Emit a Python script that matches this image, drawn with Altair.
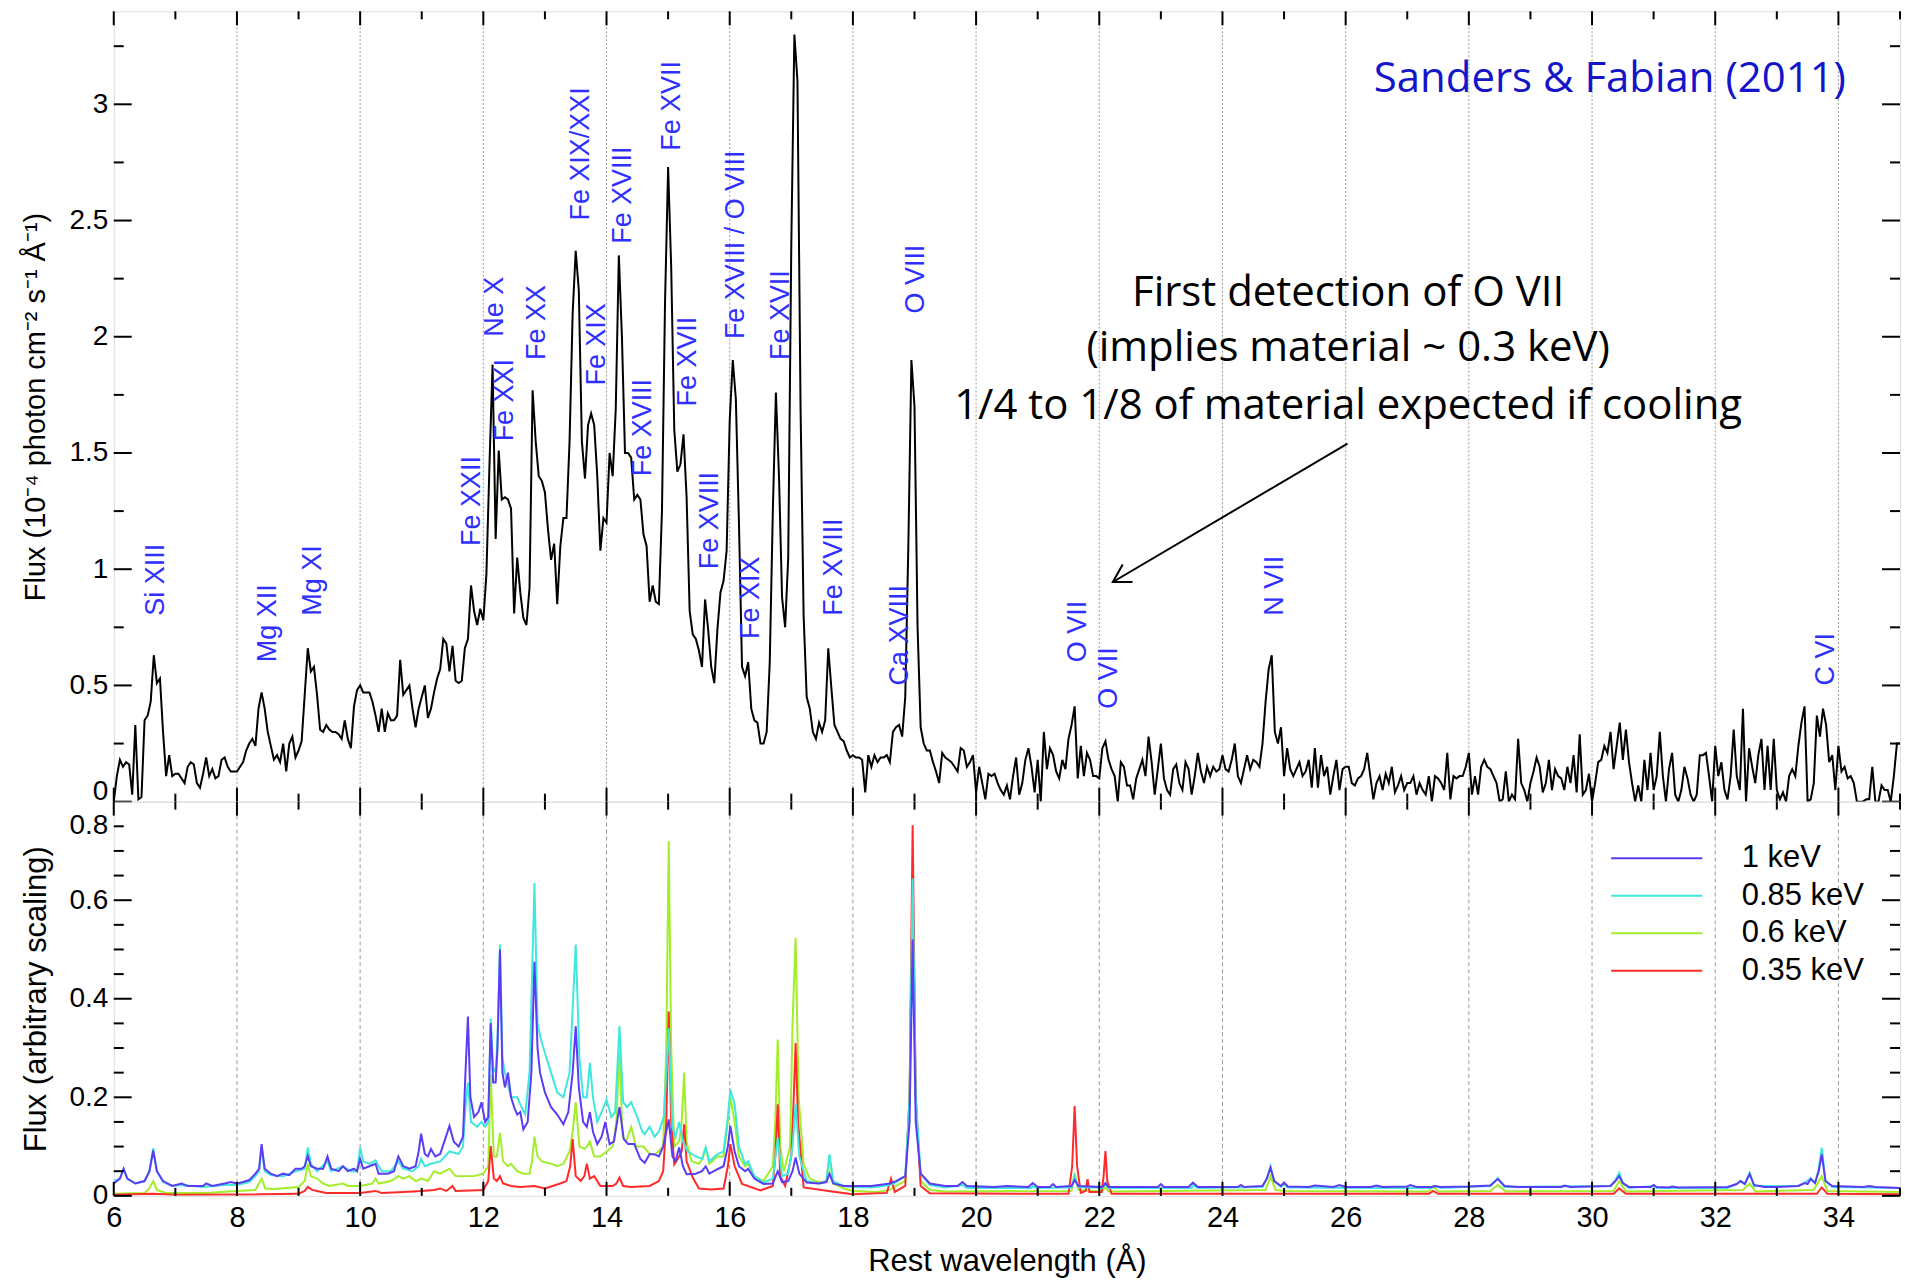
import altair as alt
import pandas as pd

# ---------------------------------------------------------------------------
# Observed RGS spectrum: 0.05 Å bins, one row of 20 bins per Ångström
# (row 0 = 6.00 ... 6.95 Å, last row = 34.00 ... 34.95 Å), flux in 1e-4 units
# ---------------------------------------------------------------------------
FLUX_ROWS = [
    [0.00, 0.11, 0.18, 0.15, 0.17, 0.16, 0.03, 0.33, 0.01, 0.02, 0.35, 0.37, 0.43, 0.63, 0.51, 0.53, 0.30, 0.11, 0.20, 0.11],
    [0.12, 0.12, 0.10, 0.08, 0.15, 0.17, 0.16, 0.08, 0.06, 0.12, 0.19, 0.11, 0.14, 0.10, 0.11, 0.18, 0.19, 0.15, 0.13, 0.13],
    [0.13, 0.15, 0.17, 0.22, 0.25, 0.27, 0.24, 0.40, 0.47, 0.40, 0.30, 0.24, 0.18, 0.20, 0.17, 0.25, 0.13, 0.25, 0.28, 0.19],
    [0.22, 0.26, 0.46, 0.66, 0.56, 0.58, 0.46, 0.31, 0.30, 0.33, 0.31, 0.30, 0.30, 0.29, 0.27, 0.35, 0.27, 0.23, 0.41, 0.48],
    [0.50, 0.47, 0.47, 0.47, 0.43, 0.37, 0.30, 0.40, 0.30, 0.38, 0.35, 0.35, 0.37, 0.61, 0.46, 0.48, 0.50, 0.40, 0.32, 0.40],
    [0.45, 0.50, 0.36, 0.40, 0.47, 0.53, 0.57, 0.70, 0.68, 0.56, 0.67, 0.52, 0.51, 0.52, 0.66, 0.70, 0.93, 0.82, 0.76, 0.83],
    [0.78, 0.98, 1.45, 1.88, 1.13, 1.51, 1.30, 1.31, 1.30, 1.26, 0.81, 1.05, 0.90, 0.79, 0.76, 0.92, 1.77, 1.55, 1.40, 1.38],
    [1.33, 1.17, 1.04, 1.11, 0.85, 1.10, 1.22, 1.22, 1.55, 2.10, 2.37, 2.20, 1.55, 1.39, 1.62, 1.67, 1.62, 1.40, 1.08, 1.22],
    [1.20, 1.50, 1.40, 1.69, 2.35, 2.00, 1.50, 1.50, 1.48, 1.30, 1.32, 1.30, 1.15, 1.10, 0.86, 0.93, 0.86, 0.85, 1.25, 2.15],
    [2.73, 2.30, 1.60, 1.42, 1.45, 1.58, 1.31, 0.82, 0.72, 0.70, 0.65, 0.58, 0.87, 0.74, 0.58, 0.51, 0.74, 0.90, 0.95, 1.08],
    [1.64, 1.90, 1.73, 1.20, 0.58, 0.54, 0.60, 0.40, 0.35, 0.34, 0.25, 0.25, 0.30, 0.60, 1.25, 1.76, 1.40, 0.88, 0.75, 1.05],
    [2.40, 3.30, 3.10, 1.70, 0.80, 0.45, 0.40, 0.30, 0.27, 0.34, 0.30, 0.35, 0.66, 0.49, 0.33, 0.30, 0.27, 0.26, 0.22, 0.19],
    [0.20, 0.19, 0.19, 0.18, 0.04, 0.20, 0.15, 0.20, 0.17, 0.19, 0.19, 0.20, 0.17, 0.30, 0.32, 0.33, 0.28, 0.45, 1.10, 1.90],
    [1.70, 0.75, 0.32, 0.25, 0.22, 0.22, 0.17, 0.13, 0.08, 0.21, 0.19, 0.18, 0.17, 0.15, 0.13, 0.23, 0.22, 0.15, 0.17, 0.20],
    [0.04, 0.15, 0.08, 0.01, 0.12, 0.11, 0.12, 0.08, 0.05, 0.03, 0.07, 0.01, 0.11, 0.19, 0.03, 0.08, 0.18, 0.23, 0.15, 0.04],
    [0.18, 0.00, 0.30, 0.14, 0.23, 0.20, 0.13, 0.10, 0.18, 0.14, 0.27, 0.33, 0.41, 0.10, 0.24, 0.11, 0.21, 0.18, 0.11, 0.11],
    [0.10, 0.23, 0.26, 0.18, 0.14, 0.11, 0.00, 0.17, 0.15, 0.07, 0.07, 0.01, 0.10, 0.14, 0.18, 0.11, 0.28, 0.17, 0.03, 0.14],
    [0.25, 0.10, 0.05, 0.03, 0.14, 0.16, 0.08, 0.05, 0.17, 0.14, 0.03, 0.11, 0.21, 0.13, 0.08, 0.15, 0.11, 0.15, 0.13, 0.14],
    [0.20, 0.14, 0.13, 0.18, 0.25, 0.11, 0.08, 0.14, 0.20, 0.14, 0.18, 0.17, 0.15, 0.25, 0.43, 0.57, 0.63, 0.30, 0.25, 0.32],
    [0.11, 0.23, 0.14, 0.11, 0.14, 0.17, 0.11, 0.13, 0.18, 0.06, 0.23, 0.06, 0.20, 0.11, 0.15, 0.03, 0.11, 0.18, 0.05, 0.14],
    [0.15, 0.15, 0.08, 0.07, 0.10, 0.11, 0.14, 0.21, 0.11, 0.01, 0.08, 0.11, 0.05, 0.12, 0.08, 0.15, 0.04, 0.07, 0.11, 0.05],
    [0.08, 0.08, 0.11, 0.03, 0.08, 0.05, 0.03, 0.11, 0.00, 0.11, 0.10, 0.08, 0.05, 0.21, 0.01, 0.11, 0.10, 0.11, 0.11, 0.15],
    [0.21, 0.03, 0.11, 0.03, 0.15, 0.18, 0.15, 0.14, 0.11, 0.08, 0.00, 0.01, 0.13, 0.00, 0.03, 0.01, 0.27, 0.08, 0.05, 0.00],
    [0.08, 0.13, 0.19, 0.15, 0.04, 0.08, 0.18, 0.05, 0.14, 0.11, 0.10, 0.05, 0.15, 0.08, 0.20, 0.04, 0.29, 0.03, 0.05, 0.12],
    [0.00, 0.08, 0.17, 0.18, 0.24, 0.21, 0.30, 0.14, 0.24, 0.34, 0.18, 0.31, 0.17, 0.08, 0.00, 0.07, 0.00, 0.18, 0.05, 0.21],
    [0.05, 0.11, 0.30, 0.11, 0.00, 0.14, 0.21, 0.03, 0.00, 0.05, 0.15, 0.10, 0.03, 0.00, 0.03, 0.20, 0.20, 0.21, 0.11, 0.00],
    [0.24, 0.11, 0.17, 0.05, 0.01, 0.11, 0.31, 0.11, 0.05, 0.40, 0.00, 0.23, 0.15, 0.08, 0.20, 0.27, 0.05, 0.24, 0.05, 0.27],
    [0.05, 0.01, 0.04, 0.00, 0.11, 0.14, 0.11, 0.24, 0.34, 0.41, 0.00, 0.01, 0.08, 0.37, 0.28, 0.40, 0.33, 0.17, 0.20, 0.05],
    [0.24, 0.13, 0.15, 0.10, 0.11, 0.08, 0.00, 0.00, 0.00, 0.01, 0.01, 0.15, 0.00, 0.00, 0.07, 0.05, 0.05, 0.00, 0.11, 0.25],
]
FLUX_END = 0.25  # bin at 35.00 Å

# ---------------------------------------------------------------------------
# Model spectra (arbitrary scaling): (wavelength, flux) knots per temperature
# ---------------------------------------------------------------------------
MODEL_1KEV = [
    (6.00, 0.025), (6.10, 0.035), (6.16, 0.055), (6.22, 0.035), (6.35, 0.025), (6.50, 0.03), (6.58, 0.05),
    (6.64, 0.092), (6.70, 0.05), (6.80, 0.03), (6.95, 0.02), (7.10, 0.025), (7.20, 0.02), (7.45, 0.02),
    (7.50, 0.025), (7.60, 0.02), (7.80, 0.025), (7.90, 0.028), (8.00, 0.025), (8.10, 0.028), (8.20, 0.032),
    (8.30, 0.045), (8.36, 0.055), (8.40, 0.105), (8.45, 0.055), (8.55, 0.045), (8.65, 0.04), (8.75, 0.045),
    (8.85, 0.042), (8.95, 0.055), (9.05, 0.055), (9.10, 0.06), (9.15, 0.081), (9.20, 0.06), (9.30, 0.055),
    (9.40, 0.055), (9.47, 0.08), (9.53, 0.055), (9.65, 0.05), (9.72, 0.06), (9.80, 0.05), (9.90, 0.055),
    (9.95, 0.05), (10.00, 0.075), (10.05, 0.055), (10.15, 0.06), (10.25, 0.065), (10.30, 0.045),
    (10.45, 0.045), (10.55, 0.05), (10.62, 0.08), (10.70, 0.06), (10.80, 0.055), (10.90, 0.06),
    (10.95, 0.09), (10.99, 0.126), (11.05, 0.085), (11.10, 0.08), (11.15, 0.095), (11.22, 0.08),
    (11.30, 0.085), (11.38, 0.115), (11.45, 0.142), (11.52, 0.11), (11.60, 0.10), (11.67, 0.12),
    (11.71, 0.25), (11.75, 0.364), (11.79, 0.20), (11.85, 0.16), (11.92, 0.17), (11.97, 0.19),
    (12.03, 0.15), (12.08, 0.16), (12.12, 0.35), (12.16, 0.23), (12.20, 0.23), (12.23, 0.30),
    (12.27, 0.50), (12.31, 0.25), (12.35, 0.22), (12.40, 0.25), (12.45, 0.20), (12.50, 0.18),
    (12.55, 0.165), (12.60, 0.17), (12.65, 0.135), (12.72, 0.15), (12.78, 0.25), (12.83, 0.475),
    (12.88, 0.30), (12.92, 0.25), (13.00, 0.21), (13.10, 0.18), (13.20, 0.165), (13.30, 0.145),
    (13.38, 0.17), (13.45, 0.25), (13.50, 0.344), (13.55, 0.22), (13.62, 0.15), (13.68, 0.14),
    (13.73, 0.17), (13.78, 0.13), (13.85, 0.105), (13.92, 0.12), (13.98, 0.15), (14.05, 0.105),
    (14.12, 0.11), (14.21, 0.18), (14.28, 0.115), (14.35, 0.105), (14.45, 0.105), (14.55, 0.075),
    (14.62, 0.067), (14.70, 0.085), (14.78, 0.084), (14.85, 0.08), (14.92, 0.10), (15.01, 0.155),
    (15.07, 0.08), (15.12, 0.07), (15.18, 0.098), (15.24, 0.06), (15.30, 0.044), (15.45, 0.045),
    (15.55, 0.05), (15.61, 0.06), (15.67, 0.045), (15.80, 0.054), (15.90, 0.06), (15.97, 0.10),
    (16.01, 0.142), (16.08, 0.09), (16.15, 0.06), (16.25, 0.05), (16.30, 0.055), (16.40, 0.035),
    (16.55, 0.024), (16.70, 0.025), (16.78, 0.05), (16.85, 0.028), (16.95, 0.03), (17.02, 0.05),
    (17.07, 0.078), (17.13, 0.045), (17.25, 0.027), (17.45, 0.025), (17.57, 0.028), (17.62, 0.045),
    (17.68, 0.025), (17.85, 0.02), (18.00, 0.02), (18.30, 0.02), (18.60, 0.025), (18.70, 0.03),
    (18.85, 0.04), (18.92, 0.15), (18.97, 0.52), (19.02, 0.15), (19.10, 0.045), (19.25, 0.025),
    (19.50, 0.02), (19.70, 0.02), (19.78, 0.028), (19.85, 0.02), (20.30, 0.018), (20.50, 0.02),
    (20.85, 0.018), (20.92, 0.026), (21.00, 0.018), (21.20, 0.018), (21.25, 0.024), (21.30, 0.018),
    (21.55, 0.02), (21.60, 0.032), (21.66, 0.02), (22.05, 0.018), (22.10, 0.026), (22.15, 0.018),
    (22.95, 0.018), (23.00, 0.024), (23.05, 0.018), (23.45, 0.018), (23.52, 0.027), (23.60, 0.018),
    (24.25, 0.018), (24.30, 0.022), (24.35, 0.018), (24.65, 0.02), (24.72, 0.035), (24.78, 0.057),
    (24.84, 0.03), (24.95, 0.02), (25.00, 0.027), (25.06, 0.019), (25.40, 0.018), (25.50, 0.021),
    (25.80, 0.018), (25.90, 0.022), (26.00, 0.018), (26.40, 0.018), (26.50, 0.021), (26.60, 0.018),
    (27.00, 0.019), (27.05, 0.022), (27.15, 0.018), (27.40, 0.018), (27.45, 0.02), (27.55, 0.018),
    (28.00, 0.019), (28.35, 0.021), (28.47, 0.034), (28.58, 0.02), (28.80, 0.018), (29.50, 0.018),
    (29.55, 0.021), (29.65, 0.018), (30.30, 0.02), (30.38, 0.03), (30.44, 0.04), (30.50, 0.026),
    (30.60, 0.018), (30.95, 0.018), (31.00, 0.022), (31.05, 0.018), (31.25, 0.017), (31.30, 0.019),
    (31.40, 0.017), (32.20, 0.018), (32.35, 0.024), (32.41, 0.03), (32.48, 0.024), (32.56, 0.044),
    (32.63, 0.022), (32.80, 0.018), (33.00, 0.018), (33.35, 0.02), (33.45, 0.026), (33.50, 0.024),
    (33.55, 0.034), (33.62, 0.026), (33.68, 0.05), (33.73, 0.084), (33.79, 0.03), (33.90, 0.02),
    (34.40, 0.018), (34.50, 0.02), (34.60, 0.018), (35.00, 0.016),
]

MODEL_085KEV = [
    (6.00, 0.03), (6.10, 0.035), (6.16, 0.055), (6.22, 0.035), (6.35, 0.025), (6.50, 0.03), (6.58, 0.05),
    (6.64, 0.097), (6.70, 0.05), (6.80, 0.028), (6.95, 0.02), (7.10, 0.022), (7.45, 0.018), (7.80, 0.022),
    (8.00, 0.022), (8.20, 0.028), (8.30, 0.04), (8.36, 0.05), (8.40, 0.10), (8.45, 0.05), (8.55, 0.042),
    (8.75, 0.04), (8.95, 0.05), (9.10, 0.055), (9.15, 0.098), (9.20, 0.065), (9.30, 0.05), (9.47, 0.07),
    (9.53, 0.05), (9.72, 0.06), (9.85, 0.05), (9.95, 0.05), (10.00, 0.098), (10.05, 0.07), (10.15, 0.065),
    (10.25, 0.072), (10.35, 0.05), (10.50, 0.05), (10.62, 0.07), (10.70, 0.055), (10.85, 0.05),
    (10.95, 0.06), (10.99, 0.075), (11.05, 0.06), (11.15, 0.065), (11.30, 0.07), (11.45, 0.09),
    (11.60, 0.085), (11.67, 0.10), (11.71, 0.18), (11.75, 0.23), (11.80, 0.15), (11.90, 0.14),
    (11.97, 0.15), (12.03, 0.14), (12.08, 0.15), (12.12, 0.36), (12.16, 0.26), (12.20, 0.25),
    (12.23, 0.32), (12.27, 0.51), (12.31, 0.28), (12.35, 0.25), (12.45, 0.20), (12.55, 0.20),
    (12.62, 0.18), (12.68, 0.165), (12.75, 0.25), (12.83, 0.635), (12.88, 0.35), (12.93, 0.32),
    (13.00, 0.29), (13.10, 0.25), (13.20, 0.21), (13.30, 0.20), (13.40, 0.25), (13.50, 0.51),
    (13.56, 0.28), (13.62, 0.20), (13.68, 0.20), (13.73, 0.27), (13.78, 0.20), (13.85, 0.15),
    (13.92, 0.17), (14.00, 0.195), (14.08, 0.16), (14.14, 0.17), (14.21, 0.345), (14.27, 0.19),
    (14.33, 0.18), (14.40, 0.19), (14.50, 0.16), (14.58, 0.13), (14.62, 0.125), (14.70, 0.14),
    (14.78, 0.12), (14.85, 0.13), (14.93, 0.16), (15.01, 0.34), (15.07, 0.14), (15.12, 0.12),
    (15.18, 0.15), (15.24, 0.11), (15.32, 0.09), (15.45, 0.08), (15.55, 0.075), (15.61, 0.098),
    (15.67, 0.07), (15.80, 0.084), (15.90, 0.09), (15.97, 0.16), (16.01, 0.216), (16.08, 0.186),
    (16.15, 0.10), (16.25, 0.065), (16.30, 0.07), (16.40, 0.04), (16.55, 0.027), (16.70, 0.035),
    (16.78, 0.118), (16.85, 0.04), (16.95, 0.045), (17.02, 0.10), (17.07, 0.186), (17.13, 0.08),
    (17.25, 0.03), (17.45, 0.025), (17.57, 0.03), (17.62, 0.084), (17.68, 0.03), (17.85, 0.02),
    (18.00, 0.018), (18.30, 0.017), (18.60, 0.022), (18.70, 0.028), (18.85, 0.04), (18.92, 0.20),
    (18.97, 0.644), (19.02, 0.20), (19.10, 0.045), (19.25, 0.022), (19.50, 0.017), (19.78, 0.022),
    (19.85, 0.016), (20.90, 0.016), (20.92, 0.02), (21.00, 0.016), (21.55, 0.017), (21.60, 0.04),
    (21.66, 0.018), (22.05, 0.016), (22.10, 0.024), (22.15, 0.016), (23.50, 0.016), (23.52, 0.022),
    (23.60, 0.016), (24.65, 0.018), (24.72, 0.035), (24.78, 0.06), (24.84, 0.03), (24.95, 0.018),
    (25.00, 0.024), (25.06, 0.017), (26.50, 0.016), (27.40, 0.016), (27.45, 0.02), (27.55, 0.016),
    (28.35, 0.02), (28.47, 0.036), (28.58, 0.018), (30.30, 0.02), (30.38, 0.032), (30.44, 0.047),
    (30.50, 0.026), (30.60, 0.016), (31.00, 0.02), (31.05, 0.016), (32.20, 0.016), (32.35, 0.024),
    (32.41, 0.03), (32.48, 0.024), (32.56, 0.047), (32.63, 0.02), (33.35, 0.02), (33.45, 0.026),
    (33.55, 0.036), (33.62, 0.026), (33.68, 0.055), (33.73, 0.098), (33.79, 0.03), (33.90, 0.018),
    (35.00, 0.016),
]

MODEL_06KEV = [
    (6.00, 0.004), (6.50, 0.006), (6.58, 0.015), (6.64, 0.03), (6.70, 0.012), (6.85, 0.006), (7.50, 0.006),
    (8.00, 0.01), (8.30, 0.012), (8.40, 0.035), (8.46, 0.015), (8.60, 0.014), (9.00, 0.018), (9.10, 0.03),
    (9.15, 0.065), (9.20, 0.04), (9.30, 0.035), (9.40, 0.025), (9.50, 0.02), (9.72, 0.025), (9.80, 0.02),
    (10.00, 0.02), (10.20, 0.025), (10.25, 0.035), (10.30, 0.025), (10.50, 0.03), (10.62, 0.04),
    (10.70, 0.035), (10.80, 0.04), (10.90, 0.03), (11.00, 0.035), (11.10, 0.03), (11.20, 0.05),
    (11.30, 0.045), (11.45, 0.055), (11.55, 0.04), (11.75, 0.04), (11.85, 0.04), (12.00, 0.045),
    (12.08, 0.06), (12.12, 0.246), (12.17, 0.08), (12.22, 0.08), (12.27, 0.128), (12.32, 0.07),
    (12.40, 0.06), (12.45, 0.065), (12.55, 0.05), (12.65, 0.045), (12.75, 0.045), (12.79, 0.07),
    (12.83, 0.12), (12.88, 0.08), (12.95, 0.07), (13.10, 0.065), (13.20, 0.06), (13.30, 0.065),
    (13.40, 0.09), (13.45, 0.13), (13.50, 0.19), (13.56, 0.10), (13.65, 0.095), (13.73, 0.11),
    (13.80, 0.08), (13.90, 0.08), (14.00, 0.09), (14.10, 0.10), (14.16, 0.15), (14.21, 0.295),
    (14.26, 0.12), (14.32, 0.11), (14.40, 0.14), (14.48, 0.10), (14.60, 0.10), (14.70, 0.085),
    (14.80, 0.085), (14.92, 0.10), (14.97, 0.30), (15.01, 0.72), (15.05, 0.30), (15.10, 0.10),
    (15.18, 0.11), (15.22, 0.15), (15.26, 0.25), (15.30, 0.11), (15.38, 0.07), (15.50, 0.065),
    (15.56, 0.075), (15.61, 0.098), (15.67, 0.065), (15.80, 0.08), (15.90, 0.08), (15.97, 0.15),
    (16.01, 0.20), (16.08, 0.15), (16.15, 0.08), (16.25, 0.06), (16.30, 0.065), (16.40, 0.04),
    (16.55, 0.03), (16.70, 0.06), (16.74, 0.15), (16.78, 0.317), (16.82, 0.10), (16.88, 0.05),
    (16.98, 0.10), (17.02, 0.35), (17.07, 0.523), (17.12, 0.20), (17.20, 0.064), (17.30, 0.035),
    (17.45, 0.027), (17.57, 0.03), (17.62, 0.081), (17.68, 0.025), (17.85, 0.015), (18.00, 0.01),
    (18.40, 0.008), (18.60, 0.012), (18.70, 0.02), (18.85, 0.03), (18.92, 0.20), (18.97, 0.644),
    (19.02, 0.20), (19.10, 0.03), (19.25, 0.012), (19.50, 0.009), (21.55, 0.01), (21.60, 0.047),
    (21.66, 0.012), (22.05, 0.009), (22.10, 0.02), (22.15, 0.009), (24.70, 0.012), (24.78, 0.04),
    (24.86, 0.012), (25.00, 0.01), (27.35, 0.009), (27.42, 0.02), (27.50, 0.009), (28.35, 0.01),
    (28.47, 0.022), (28.60, 0.009), (30.35, 0.01), (30.44, 0.03), (30.55, 0.009), (32.45, 0.012),
    (32.56, 0.025), (32.65, 0.009), (33.60, 0.012), (33.73, 0.04), (33.82, 0.01), (35.00, 0.008),
]

MODEL_035KEV = [
    (6.00, 0.002), (6.64, 0.004), (7.00, 0.002), (8.40, 0.003), (9.00, 0.004), (9.10, 0.01), (9.15, 0.018),
    (9.22, 0.012), (9.30, 0.01), (9.45, 0.006), (10.00, 0.006), (10.25, 0.01), (10.35, 0.006),
    (10.70, 0.008), (11.00, 0.01), (11.20, 0.012), (11.30, 0.015), (11.40, 0.01), (11.50, 0.02),
    (11.55, 0.01), (12.00, 0.012), (12.08, 0.03), (12.12, 0.101), (12.17, 0.035), (12.22, 0.03),
    (12.27, 0.04), (12.32, 0.025), (12.45, 0.02), (12.60, 0.018), (12.83, 0.02), (13.00, 0.015),
    (13.25, 0.025), (13.35, 0.03), (13.41, 0.06), (13.45, 0.115), (13.50, 0.04), (13.58, 0.03),
    (13.64, 0.04), (13.68, 0.065), (13.73, 0.035), (13.80, 0.04), (13.90, 0.02), (14.10, 0.02),
    (14.16, 0.025), (14.21, 0.037), (14.27, 0.02), (14.40, 0.018), (14.70, 0.02), (14.85, 0.03),
    (14.92, 0.05), (14.97, 0.15), (15.01, 0.374), (15.05, 0.15), (15.10, 0.064), (15.18, 0.08),
    (15.22, 0.09), (15.26, 0.145), (15.30, 0.07), (15.40, 0.037), (15.50, 0.015), (15.70, 0.013),
    (15.90, 0.015), (15.97, 0.06), (16.01, 0.105), (16.08, 0.06), (16.20, 0.024), (16.50, 0.011),
    (16.70, 0.02), (16.74, 0.08), (16.78, 0.186), (16.82, 0.04), (16.90, 0.02), (17.00, 0.08),
    (17.04, 0.20), (17.07, 0.31), (17.11, 0.15), (17.20, 0.017), (17.60, 0.01), (18.00, 0.003),
    (18.55, 0.006), (18.62, 0.035), (18.68, 0.008), (18.85, 0.02), (18.92, 0.20), (18.97, 0.752),
    (19.02, 0.20), (19.10, 0.02), (19.25, 0.005), (21.50, 0.004), (21.56, 0.06), (21.60, 0.182),
    (21.64, 0.06), (21.70, 0.006), (21.78, 0.01), (21.81, 0.034), (21.84, 0.008), (22.04, 0.008),
    (22.07, 0.04), (22.10, 0.091), (22.13, 0.03), (22.20, 0.004), (27.35, 0.004), (27.42, 0.01),
    (27.50, 0.004), (30.35, 0.004), (30.44, 0.015), (30.55, 0.004), (33.65, 0.004), (33.73, 0.017),
    (33.82, 0.004), (35.00, 0.003),
]

MODEL_NAMES = ["1 keV", "0.85 keV", "0.6 keV", "0.35 keV"]
MODEL_COLORS = ["#5b3cf6", "#3ee8dc", "#a2ee2a", "#ff2a2a"]

# ---------------------------------------------------------------------------
# Line identifications: label, wavelength of the label, flux where it starts
# ---------------------------------------------------------------------------
LINE_TEXT = ["Si XIII", "Mg XII", "Mg XI", "Fe XXII", "Ne X", "Fe XXI", "Fe XX", "Fe XIX/XXI",
             "Fe XIX", "Fe XVIII", "Fe XVIII", "Fe XVII", "Fe XVII", "Fe XVIII",
             "Fe XVIII / O VIII", "Fe XIX", "Fe XVII", "Fe XVIII", "Ca XVIII", "O VIII",
             "O VII", "O VII", "N VII", "C VI"]
LINE_LAM = [6.69, 8.50, 9.24, 11.82, 12.19, 12.35, 12.87, 13.59, 13.85, 14.26, 14.59, 15.07,
            15.32, 15.68, 16.10, 16.34, 16.84, 17.70, 18.76, 19.03, 21.65, 22.16, 24.85, 33.80]
LINE_FLUX = [0.80, 0.60, 0.80, 1.10, 2.00, 1.55, 1.90, 2.50, 1.79, 2.40, 1.40, 2.80, 1.70,
             1.00, 1.99, 0.70, 1.90, 0.80, 0.50, 2.10, 0.60, 0.40, 0.80, 0.50]

NOTE_LINES = ["First detection of O VII", "(implies material ~ 0.3 keV)",
              "1/4 to 1/8 of material expected if cooling"]
NOTE_LAM = [26.04, 26.04, 26.04]
NOTE_FLUX = [2.19, 1.95, 1.70]

ARROW_LAM = [26.03, 22.22]
ARROW_FLUX = [1.54, 0.945]
HEAD_LAM = [22.54, 22.22, 22.38]
HEAD_FLUX = [0.945, 0.945, 1.02]

CREDIT = "Sanders & Fabian (2011)"
CREDIT_LAM, CREDIT_FLUX = 30.29, 3.11

LEGEND_LINE_LAM = [30.31, 31.79]
LEGEND_TEXT_LAM = 32.43
LEGEND_Y = [0.685, 0.609, 0.533, 0.457]

X_MAJOR = [6, 8, 10, 12, 14, 16, 18, 20, 22, 24, 26, 28, 30, 32, 34]
X_MINOR = [7, 9, 11, 13, 15, 17, 19, 21, 23, 25, 27, 29, 31, 33, 35]
GRID_X = [8, 10, 12, 14, 16, 18, 20, 22, 24, 26, 28, 30, 32, 34]
TOP_Y_MAJOR = [0, 0.5, 1, 1.5, 2, 2.5, 3]
TOP_Y_MINOR = [0.25, 0.75, 1.25, 1.75, 2.25, 2.75, 3.25]
BOT_Y_MAJOR = [0, 0.2, 0.4, 0.6]
BOT_Y_MINOR = [0.05, 0.1, 0.15, 0.25, 0.3, 0.35, 0.45, 0.5, 0.55, 0.65, 0.7, 0.75]

# ---------------------------------------------------------------------------
W, H_TOP, H_BOT = 1790, 792, 395
AXIS_FONT = "Liberation Sans"
NOTE_FONT = "Open Sans"
LABEL_BLUE = "#2f2fff"

lam, flux = [], []
for r, row in enumerate(FLUX_ROWS):
    for k, v in enumerate(row):
        lam.append(round(6 + r + 0.05 * k, 2))
        flux.append(v)
lam.append(35.0)
flux.append(FLUX_END)
spec_df = pd.DataFrame({"x": lam, "y": flux})

xscale = alt.Scale(domain=[6, 35], nice=False, zero=False)
X_TOP = alt.X("x:Q", scale=xscale, axis=None)
Y_TOP = alt.Y("y:Q", scale=alt.Scale(domain=[0, 3.4], nice=False, zero=False),
              axis=alt.Axis(values=TOP_Y_MAJOR, format=".1~f", ticks=False, domain=False, grid=False,
                            labelFontSize=28, labelPadding=6, labelColor="black",
                            labelOffset={"condition": {"test": "datum.value < 0.1", "value": -10}, "value": 0},
                            title="Flux (10⁻⁴ photon cm⁻² s⁻¹ Å⁻¹)", titleFontSize=29,
                            titleFontWeight="normal", titleColor="black", titlePadding=18))
X_BOT = alt.X("x:Q", scale=xscale,
              axis=alt.Axis(values=X_MAJOR, ticks=False, domain=False, grid=False, labelFlush=False,
                            labelOverlap=False, labelFontSize=29, labelPadding=8, labelColor="black",
                            title="Rest wavelength (Å)", titleFontSize=31, titleFontWeight="normal",
                            titleColor="black", titlePadding=14))
Y_BOT = alt.Y("y:Q", scale=alt.Scale(domain=[0, 0.8], nice=False, zero=False),
              axis=alt.Axis(values=[0, 0.2, 0.4, 0.6, 0.8], format=".1~f", ticks=False, domain=False,
                            grid=False, labelFontSize=28, labelPadding=6, labelColor="black",
                            labelOffset={"condition": {"test": "datum.value > 0.7", "value": 24}, "value": 0},
                            title="Flux (arbitrary scaling)", titleFontSize=31, titleFontWeight="normal",
                            titleColor="black", titlePadding=16))


def frame_ticks(X, Y, h, y_major, y_minor):
    """Inward-pointing ticks on all four sides of a panel."""
    layers = []
    for vals, ln in ((X_MAJOR, 14), (X_MINOR, 8)):
        d = pd.DataFrame({"x": vals})
        layers.append(alt.Chart(d).mark_rule(color="black", strokeWidth=2).encode(
            x=X, y=alt.value(h), y2=alt.value(h - ln)))
        layers.append(alt.Chart(d).mark_rule(color="black", strokeWidth=2).encode(
            x=X, y=alt.value(0), y2=alt.value(ln)))
    for vals, ln in ((y_major, 18), (y_minor, 10)):
        d = pd.DataFrame({"y": vals})
        layers.append(alt.Chart(d).mark_rule(color="black", strokeWidth=2).encode(
            y=Y, x=alt.value(0), x2=alt.value(ln)))
        layers.append(alt.Chart(d).mark_rule(color="black", strokeWidth=2).encode(
            y=Y, x=alt.value(W), x2=alt.value(W - ln)))
    return layers


# ---------------- top panel: observed spectrum ----------------
grid_df = pd.DataFrame({"x": GRID_X})
top_grid = alt.Chart(grid_df).mark_rule(color="#9a9a9a", strokeWidth=1, strokeDash=[2, 2]).encode(
    x=X_TOP, y=alt.value(0), y2=alt.value(H_TOP))
spec_line = alt.Chart(spec_df).mark_line(color="black", strokeWidth=2, clip=True,
                                         interpolate="linear").encode(x=X_TOP, y=Y_TOP)
labels_df = pd.DataFrame({"x": LINE_LAM, "y": LINE_FLUX, "t": LINE_TEXT})
line_ids = alt.Chart(labels_df).mark_text(angle=270, align="left", baseline="middle", font=AXIS_FONT,
                                          fontSize=27, color=LABEL_BLUE).encode(x=X_TOP, y=Y_TOP, text="t:N")
note_df = pd.DataFrame({"x": NOTE_LAM, "y": NOTE_FLUX, "t": NOTE_LINES})
note = alt.Chart(note_df).mark_text(align="center", baseline="middle", font=NOTE_FONT, fontSize=42,
                                    color="black").encode(x=X_TOP, y=Y_TOP, text="t:N")
credit_df = pd.DataFrame({"x": [CREDIT_LAM], "y": [CREDIT_FLUX], "t": [CREDIT]})
credit = alt.Chart(credit_df).mark_text(align="center", baseline="middle", font=NOTE_FONT, fontSize=42,
                                        color="#1414c8").encode(x=X_TOP, y=Y_TOP, text="t:N")
arrow_df = pd.DataFrame({"x": ARROW_LAM, "y": ARROW_FLUX, "o": [0, 1]})
arrow = alt.Chart(arrow_df).mark_line(color="black", strokeWidth=2).encode(x=X_TOP, y=Y_TOP, order="o:Q")
head_df = pd.DataFrame({"x": HEAD_LAM, "y": HEAD_FLUX, "o": [0, 1, 2]})
head = alt.Chart(head_df).mark_line(color="black", strokeWidth=2).encode(x=X_TOP, y=Y_TOP, order="o:Q")

top = alt.layer(top_grid, spec_line, line_ids, note, credit, arrow, head,
                *frame_ticks(X_TOP, Y_TOP, H_TOP, TOP_Y_MAJOR, TOP_Y_MINOR)
                ).properties(width=W, height=H_TOP)

# ---------------- bottom panel: model spectra ----------------
bot_grid = alt.Chart(grid_df).mark_rule(color="#9a9a9a", strokeWidth=1, strokeDash=[4, 3]).encode(
    x=X_BOT, y=alt.value(0), y2=alt.value(H_BOT))

models = [MODEL_1KEV, MODEL_085KEV, MODEL_06KEV, MODEL_035KEV]
model_layers = []
for idx in (2, 3, 1, 0):  # draw order: 0.6, 0.35, 0.85, 1 keV on top
    knots = models[idx]
    d = pd.DataFrame({"x": [k[0] for k in knots], "y": [k[1] for k in knots]})
    model_layers.append(alt.Chart(d).mark_line(color=MODEL_COLORS[idx], strokeWidth=2, clip=True).encode(
        x=X_BOT, y=Y_BOT))

legend_layers = []
for name, col, yy in zip(MODEL_NAMES, MODEL_COLORS, LEGEND_Y):
    d = pd.DataFrame({"x": LEGEND_LINE_LAM, "y": [yy, yy]})
    legend_layers.append(alt.Chart(d).mark_line(color=col, strokeWidth=2).encode(x=X_BOT, y=Y_BOT))
    t = pd.DataFrame({"x": [LEGEND_TEXT_LAM], "y": [yy], "t": [name]})
    legend_layers.append(alt.Chart(t).mark_text(align="left", baseline="middle", font=AXIS_FONT,
                                                fontSize=31, color="black").encode(x=X_BOT, y=Y_BOT, text="t:N"))

bottom = alt.layer(bot_grid, *model_layers, *legend_layers,
                   *frame_ticks(X_BOT, Y_BOT, H_BOT, BOT_Y_MAJOR, BOT_Y_MINOR)
                   ).properties(width=W, height=H_BOT)

chart = alt.vconcat(top, bottom, spacing=0, bounds="flush").properties(
    padding={"left": 20, "top": 8, "right": 3, "bottom": 2}
).configure_view(stroke="black", strokeWidth=2).configure_axis(
    labelFont=AXIS_FONT, titleFont=AXIS_FONT
).configure(background="white")

chart.save("out.html", embed_options={"renderer": "svg", "actions": False})
